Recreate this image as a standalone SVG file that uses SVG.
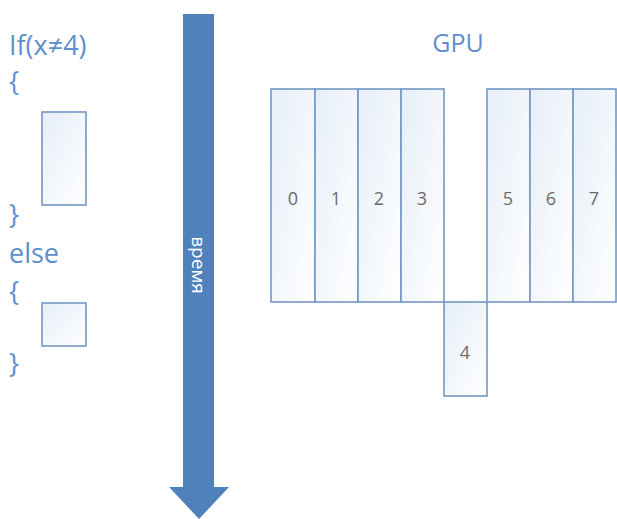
<svg xmlns="http://www.w3.org/2000/svg" width="617" height="519" viewBox="0 0 617 519">
<style>
.code{font-family:"Open Sans","Liberation Sans",sans-serif;font-size:27px;fill:#5e8fcc}
.cell{fill:url(#g);stroke:#7398c4;stroke-width:1.6}
.num{font-family:"Open Sans","Liberation Sans",sans-serif;font-size:18px;fill:#6b6b6b;text-anchor:middle}
</style>
<defs>
<linearGradient id="g" x1="0" y1="0" x2="1" y2="1">
<stop offset="0" stop-color="#e6eef8"/>
<stop offset="1" stop-color="#ffffff"/>
</linearGradient>
</defs>
<rect width="617" height="519" fill="#ffffff"/>
<g id="code">
<text class="code" x="9" y="55">If(x≠4)</text>
<text class="code" x="9" y="91">{</text>
<text class="code" x="9" y="224">}</text>
<text class="code" x="9" y="263">else</text>
<text class="code" x="9" y="301">{</text>
<text class="code" x="9" y="373">}</text>
</g>
<g id="box-if"><rect class="cell" x="42" y="112" width="44" height="93"/></g>
<g id="box-else"><rect class="cell" x="42" y="303" width="44" height="43"/></g>
<g id="time-arrow">
<path d="M183 14 H214 V487 H229 L199 519 L169 487 H183 Z" fill="#4f81bd"/>
<text x="0" y="0" transform="translate(192 265) rotate(90)" font-family="Open Sans,Liberation Sans,sans-serif" font-size="19" fill="#ffffff" text-anchor="middle">время</text>
</g>
<g id="gpu">
<text x="458" y="52" font-family="Open Sans,Liberation Sans,sans-serif" font-size="25" fill="#5e8fcc" text-anchor="middle">GPU</text>
<g id="t0"><rect class="cell" x="271" y="89" width="44" height="213"/><text class="num" x="293" y="205">0</text></g>
<g id="t1"><rect class="cell" x="315" y="89" width="43" height="213"/><text class="num" x="336" y="205">1</text></g>
<g id="t2"><rect class="cell" x="358" y="89" width="43" height="213"/><text class="num" x="379" y="205">2</text></g>
<g id="t3"><rect class="cell" x="401" y="89" width="43" height="213"/><text class="num" x="422" y="205">3</text></g>
<g id="t5"><rect class="cell" x="487" y="89" width="43" height="213"/><text class="num" x="508" y="205">5</text></g>
<g id="t6"><rect class="cell" x="530" y="89" width="43" height="213"/><text class="num" x="551" y="205">6</text></g>
<g id="t7"><rect class="cell" x="573" y="89" width="43" height="213"/><text class="num" x="594" y="205">7</text></g>
<g id="t4"><rect class="cell" x="444" y="302" width="43" height="94"/><text class="num" x="465" y="359">4</text></g>
</g>
</svg>
